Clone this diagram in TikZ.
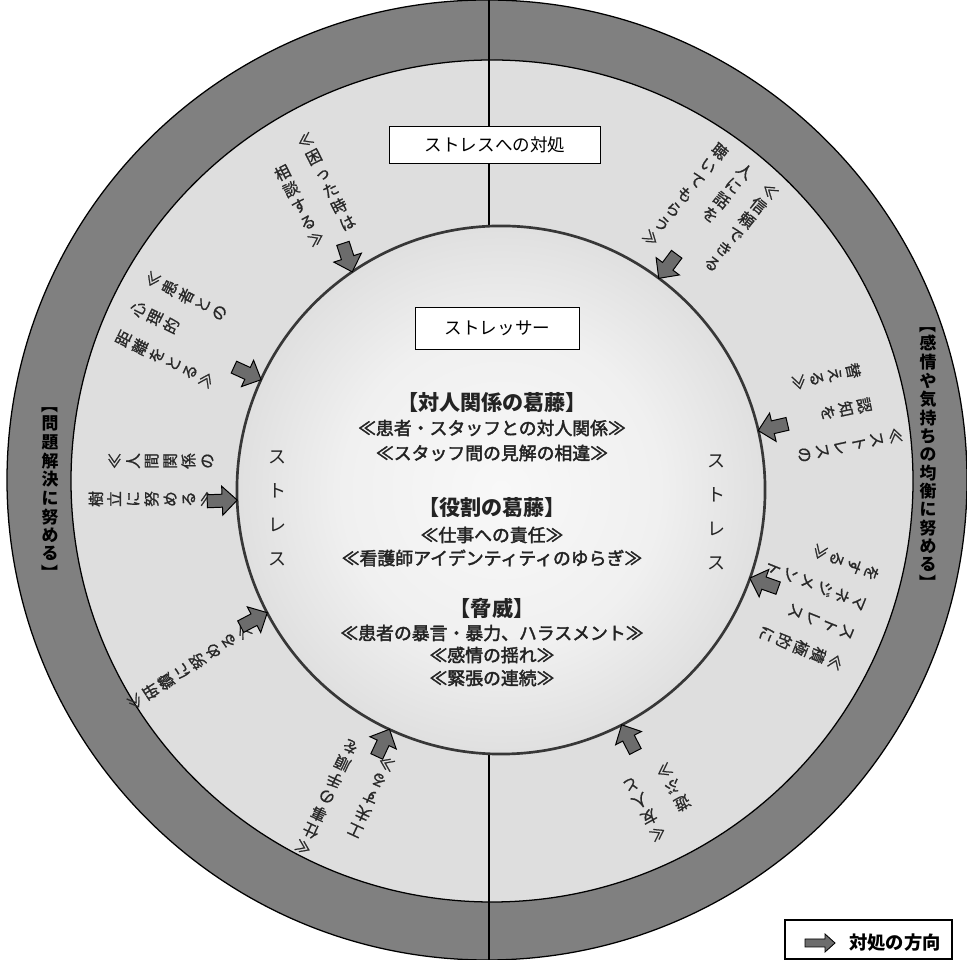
\documentclass[tikz,border=0pt]{standalone}
\usepackage{fontspec}
\setmainfont{Noto Sans CJK JP}
\newfontfamily\subfont[FakeBold=2.2]{Noto Sans CJK JP}
\newfontfamily\ringfont[FakeBold=1.0]{Noto Sans CJK JP}
\usepackage{graphicx}
\usetikzlibrary{calc}

\definecolor{darkband}{RGB}{128,128,128}
\definecolor{lightring}{RGB}{222,222,222}
\definecolor{arrowfill}{RGB}{108,108,108}
\definecolor{ringtxtcol}{RGB}{40,40,40}
\definecolor{sphtxt}{RGB}{35,35,35}
\definecolor{sphedge}{RGB}{55,55,55}
\definecolor{shA}{RGB}{248,248,248}
\definecolor{shB}{RGB}{240,240,240}
\definecolor{shC}{RGB}{222,222,222}
\definecolor{shD}{RGB}{196,196,196}
\definecolor{shE}{RGB}{160,160,160}
\definecolor{shF}{RGB}{132,132,132}
\pgfdeclareradialshading{sphereshade}{\pgfpoint{0bp}{0bp}}{color(0bp)=(shA); color(15bp)=(shB); color(26bp)=(shC); color(37bp)=(shD); color(45bp)=(shE); color(50bp)=(shF)}

% vertical (tategaki) column of characters
\def\vcend{\vcend}
\def\vcH{10.2pt}\def\vcD{2.96pt}
\newcommand\vcchar[1]{\ifx#1【\rotatebox[origin=c]{-90}{【}\else\ifx#1】\rotatebox[origin=c]{-90}{】}\else#1\fi\fi}
\def\vcloop#1{\ifx#1\vcend\else\hbox to 1em{\hss\vrule height\vcH depth\vcD width0pt\vcchar{#1}\hss}\expandafter\vcloop\fi}
\newcommand\vc[1]{\vbox{\offinterlineskip\vcloop#1\vcend}}

% ring text: name, centre, rotation, column sep, number of columns, total length (chars), list offset/text
\newcommand\ringtext[7]{%
  \begin{scope}[shift={#2}, rotate=#3, transform shape]
    \foreach \cto/\ctx [count=\ci] in {#7}{%
      \node[ringtxt, name=#1c\ci] at ({((#5-1)/2-(\ci-1))*#4}, {(#6/2-\cto)*18.5}) {\expandafter\vc\expandafter{\ctx}};
    }
  \end{scope}}

% block arrow: angle of tip on the sphere, direction
\newcommand\barrow[2]{%
  \path[arrowsty, shift={($(sph.center)+(#1:264)$)}, rotate=#2]
    (0,0) -- (-15,14.5) -- (-15,6.5) -- (-30,6.5) -- (-30,-6.5) -- (-15,-6.5) -- (-15,-14.5) -- cycle;}

\begin{document}
\begin{tikzpicture}[x=0.025cm, y=0.025cm,
  ringtxt/.style={anchor=north, inner sep=0pt, text=ringtxtcol, font=\ringfont\fontsize{11.2}{12}\selectfont},
  sidelab/.style={inner sep=0pt, text=black, font=\bfseries\fontsize{12}{14}\selectfont},
  boxlab/.style={draw=black, line width=0.7pt, fill=white, inner sep=0pt, font=\fontsize{12.5}{14}\selectfont, text=black},
  cattitle/.style={inner sep=0pt, text=sphtxt, font=\bfseries\fontsize{15}{16}\selectfont},
  subcat/.style={inner sep=0pt, text=sphtxt, font=\subfont\fontsize{12.7}{14}\selectfont},
  strtxt/.style={inner sep=0pt, text=sphtxt, font=\fontsize{12.8}{14}\selectfont},
  arrowsty/.style={fill=arrowfill, draw=black, line width=0.7pt, line join=miter},
  divider/.style={draw=black, line width=0.8pt}]
\useasboundingbox (0,0) rectangle (967,960);

% rings
\path[fill=darkband, draw=black, line width=0.9pt] (487,480) circle[radius=480];
\path[fill=lightring, draw=black, line width=0.9pt] (492,479) circle[radius=421];

% dividers
\coordinate (dtop) at (489,960);
\coordinate (dtopin) at (489,600);
\coordinate (dbot) at (489,0);
\coordinate (dbotin) at (489,300);
\draw[divider] (dtop) -- (dtopin);
\draw[divider] (dbot) -- (dbotin);

% sphere
\node[circle, minimum size=13.2cm, inner sep=0pt, shading=sphereshade, draw=sphedge, line width=1.9pt] (sph) at (501,470) {};

% boxes
\node[boxlab, minimum width=5.25cm, minimum height=0.9cm] (coping) at (495,815) {ストレスへの対処};
\node[boxlab, minimum width=4.12cm, minimum height=1.07cm] (stressor) at (497.5,631.5) {ストレッサー};

% stressor categories
\node[cattitle] (c1) at (492,557) {【対人関係の葛藤】};
\node[subcat] (c1a) at (492,532) {≪患者・スタッフとの対人関係≫};
\node[subcat] (c1b) at (492,507) {≪スタッフ間の見解の相違≫};
\node[cattitle] (c2) at (492,452) {【役割の葛藤】};
\node[subcat] (c2a) at (492,425) {≪仕事への責任≫};
\node[subcat] (c2b) at (492,402) {≪看護師アイデンティティのゆらぎ≫};
\node[cattitle] (c3) at (492,352) {【脅威】};
\node[subcat] (c3a) at (492,327) {≪患者の暴言・暴力、ハラスメント≫};
\node[subcat] (c3b) at (492,305) {≪感情の揺れ≫};
\node[subcat] (c3c) at (492,282) {≪緊張の連続≫};

% "stress" on both sides
\node[strtxt] (strl) at (277,452) {\def\vcH{17pt}\def\vcD{7.2pt}\vc{ストレス}};
\node[strtxt] (strr) at (716,448) {\def\vcH{17pt}\def\vcD{7.2pt}\vc{ストレス}};

% side labels
\node[sidelab] (labl) at (50,470) {\def\vcH{10pt}\def\vcD{3.1pt}\vc{【問題解決に努める】}};
\node[sidelab] (labr) at (928,505) {\def\vcH{9.8pt}\def\vcD{3pt}\vc{【感情や気持ちの均衡に努める】}};

% coping texts
\ringtext{ta}{(311,770)}{27}{35}{2}{6}{0/≪困った時は, 1/相談する≫}
\ringtext{tb}{(710,745)}{-38.5}{32}{3}{7}{0/≪信頼できる, 0/人に話を, 0/聴いてもらう≫}
\ringtext{tc}{(180,630)}{63.5}{33}{3}{6}{0/≪患者との, 0/心理的, 0/距離をとる≫}
\ringtext{td}{(842,550)}{-78}{36}{3}{6}{0/≪ストレスの, 1.3/認知を, 1.5/替える≫}
\ringtext{te}{(152,480)}{90}{38}{2}{7}{1/≪人間関係の, 0/樹立に努める≫}
\ringtext{tf}{(190,294)}{123}{34}{1}{8}{0/≪研鑽に努める≫}
\ringtext{tg}{(810,360)}{-112}{32}{4}{6}{0/≪積極的に, 0/ストレス, 0/マネジメント, 0/をする≫}
\ringtext{th}{(345,155)}{155}{40}{2}{7}{0/≪仕事の手順を, 2/工夫する≫}
\ringtext{ti}{(660,160)}{-151}{36}{2}{4}{0/≪友人と, 0.8/遊ぶ≫}

% coping arrows
\barrow{124.3}{-72}
\barrow{53.3}{233.3}
\barrow{155.3}{335.3}
\barrow{13}{193}
\barrow{182.2}{2.2}
\barrow{207.7}{27.7}
\barrow{-19.5}{160.5}
\barrow{245}{65}
\barrow{297.2}{117.2}

% legend
\node[draw=black, line width=0.9pt, fill=white, minimum width=4.17cm, minimum height=0.97cm, inner sep=0pt] (legend) at (868.5,20.5) {};
\path[arrowsty, line width=0.6pt] (835,17) -- (825,26) -- (825,21) -- (805,21) -- (805,13) -- (825,13) -- (825,8) -- cycle;
\node[inner sep=0pt, font=\bfseries\fontsize{13}{14}\selectfont] (legtxt) at (895,17) {対処の方向};
\end{tikzpicture}
\end{document}
